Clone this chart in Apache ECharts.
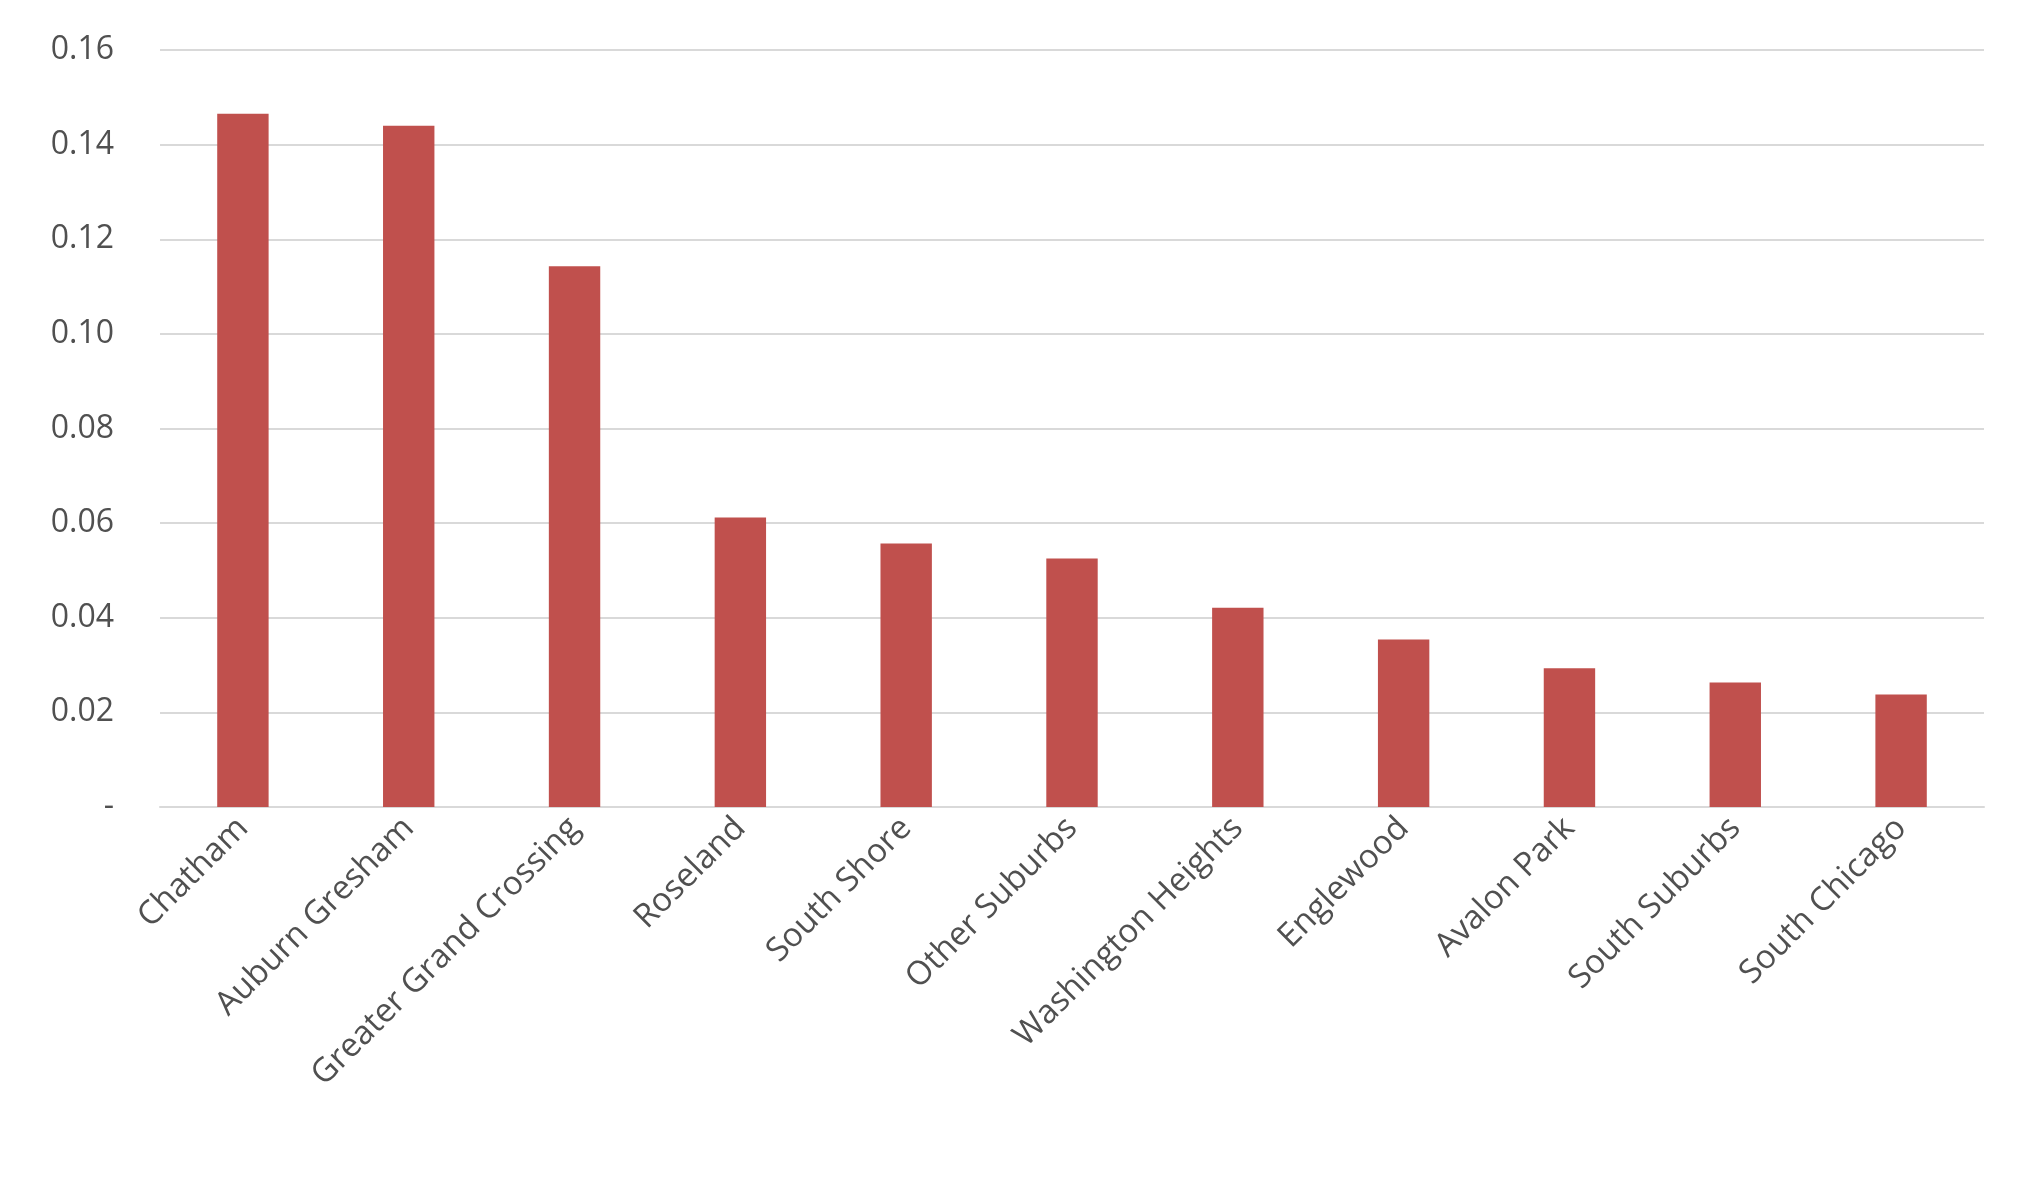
<!DOCTYPE html>
<html><head><meta charset="utf-8">
<script src="https://cdn.jsdelivr.net/npm/echarts@6/dist/echarts.min.js"></script>
<style>html,body{margin:0;padding:0;background:#fff}#c{width:2032px;height:1177px}</style>
</head><body><div id="c"></div>
<script>
const categories = ["Chatham","Auburn Gresham","Greater Grand Crossing","Roseland","South Shore","Other Suburbs","Washington Heights","Englewood","Avalon Park","South Suburbs","South Chicago"];
const values = [0.1465,0.1440,0.1143,0.0612,0.0557,0.0525,0.0421,0.0354,0.0293,0.0263,0.0238];
const chart = echarts.init(document.getElementById('c'));
chart.setOption({
  animation:false,
  grid:{left:160,right:48,top:50,bottom:370},
  xAxis:{type:'category',data:categories,
    axisLine:{lineStyle:{color:'#d9d9d9',width:2}},axisTick:{show:false},
    axisLabel:{rotate:45,color:'#505050',fontSize:33,fontFamily:'Open Sans',interval:0,margin:16}},
  yAxis:{type:'value',min:0,max:0.16,interval:0.02,
    axisLine:{show:false},axisTick:{show:false},
    splitLine:{lineStyle:{color:'#d9d9d9',width:2}},
    axisLabel:{color:'#505050',fontSize:32,fontFamily:'Open Sans',margin:46,
      formatter:v=>v===0?'-':v.toFixed(2)}},
  series:[{type:'bar',data:values,barWidth:'31%',itemStyle:{color:'#C0504D'}}]
});
</script></body></html>
